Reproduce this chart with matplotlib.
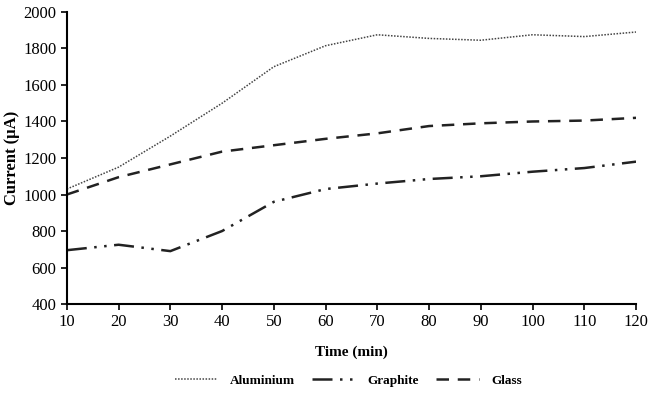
import matplotlib
matplotlib.use("Agg")
import matplotlib.pyplot as plt

time_min = [10, 20, 30, 40, 50, 60, 70, 80, 90, 100, 110, 120]
aluminium = [1030, 1150, 1320, 1500, 1700, 1815, 1875, 1855, 1845, 1875, 1865, 1890]
graphite = [695, 725, 690, 800, 960, 1030, 1060, 1085, 1100, 1125, 1145, 1180]
glass = [1000, 1095, 1165, 1235, 1270, 1305, 1335, 1375, 1390, 1400, 1405, 1420]

plt.rcParams["font.family"] = ["Liberation Serif", "DejaVu Serif"]

fig = plt.figure(figsize=(6.49, 3.98), dpi=100)
ax = fig.add_axes([0.103, 0.236, 0.877, 0.734])

ax.plot(time_min, aluminium, color="#444444", lw=1.1, linestyle=(0, (1, 1)), label="Aluminium")
ax.plot(time_min, graphite, color="#222222", lw=1.8, linestyle=(0, (8, 3, 1, 3, 1, 3)), label="Graphite")
ax.plot(time_min, glass, color="#222222", lw=1.8, linestyle=(0, (5, 3.5)), label="Glass")

ax.set_xlim(10, 120)
ax.set_ylim(400, 2000)
ax.set_xticks(time_min)
ax.set_yticks(range(400, 2001, 200))
ax.tick_params(labelsize=12, direction="out", length=4, width=1.2)
for side in ("top", "right"):
    ax.spines[side].set_visible(False)
for side in ("left", "bottom"):
    ax.spines[side].set_linewidth(1.5)

ax.set_xlabel("Time (min)", fontweight="bold", fontsize=11, labelpad=11)
ax.set_ylabel("Current (\u03bcA)", fontweight="bold", fontsize=12, labelpad=2)

ax.legend(loc="upper center", bbox_to_anchor=(0.495, -0.2), ncol=3, frameon=False,
          prop={"weight": "bold", "size": 9.5}, handlelength=3.2, handletextpad=1.0,
          columnspacing=1.3)

fig.savefig("out.png", dpi=100)
